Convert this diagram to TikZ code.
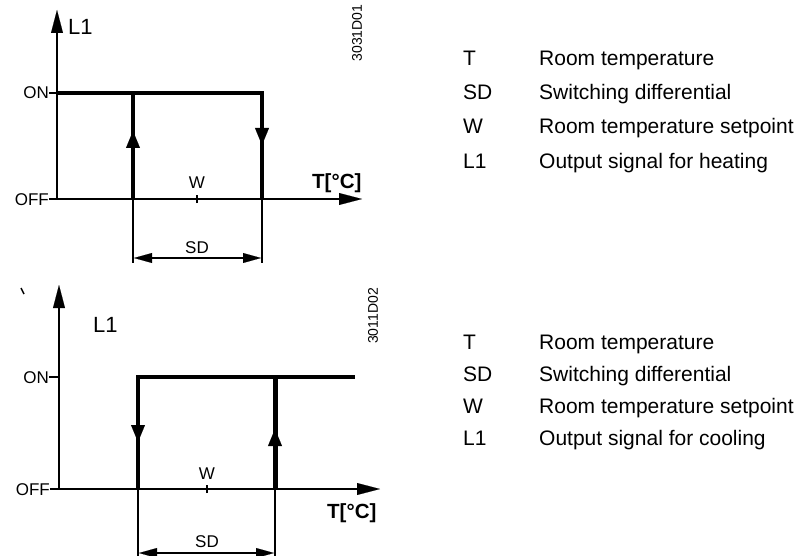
\documentclass[tikz,border=0pt]{standalone}
\usepackage{fontspec}
\setmainfont{Liberation Sans}
\usetikzlibrary{arrows.meta,positioning}

\begin{document}
\begin{tikzpicture}[
  x=1pt, y=-1pt,
  axis/.style={line width=1.2pt},
  axisarrow/.style={line width=1.2pt,
                    -{Triangle[length=23pt,width=12pt,line width=0.1pt]}},
  relay/.style={line width=4pt},
  relaytip/.style={line width=4pt,
                   -{Triangle[length=17pt,width=14pt,line width=0.1pt]}},
  dimline/.style={line width=1.3pt},
  dimarrow/.style={line width=2pt,
                   {Triangle[length=18pt,width=10pt,line width=0.1pt]}-{Triangle[length=18pt,width=10pt,line width=0.1pt]}},
  lbl/.style={inner sep=0pt, font=\fontsize{17}{20}\selectfont},
  big/.style={inner sep=0pt, anchor=base west, font=\fontsize{22}{26}\selectfont},
  unit/.style={inner sep=0pt, anchor=base west, font=\fontsize{20.5}{24}\selectfont\bfseries},
  code/.style={inner sep=0pt, rotate=90, font=\fontsize{14}{16}\selectfont},
  key/.style={inner sep=0pt, anchor=base west, font=\fontsize{21}{25}\selectfont}
]
  \useasboundingbox (0,0) rectangle (802,556);

  % heating
  \coordinate (O1) at (57,199);
  \coordinate (Ytop1) at (57,10);
  \coordinate (Xend1) at (362,199);
  \coordinate (On1) at (57,93);
  \coordinate (Up1) at (133,91);
  \coordinate (Upm1) at (133,131);
  \coordinate (Upb1) at (133,199);
  \coordinate (Dn1) at (262,93);
  \coordinate (Dnm1) at (262,145);
  \coordinate (Dnb1) at (262,199);
  \coordinate (W1) at (197,199);
  \coordinate (Sl1) at (133,263);
  \coordinate (Sr1) at (262,263);
  \coordinate (Sa1) at (134,258);
  \coordinate (Sb1) at (261,258);

  \node[lbl, anchor=base east] (on1) at (49,99) {ON};
  \node[lbl, anchor=base east] (off1) at (49,205) {OFF};
  \node[big] (l1a) at (68,35) {L1};
  \node[lbl, anchor=base] (w1) at (197,189) {W};
  \node[unit] (t1) at (312,188) {T[°C]};
  \node[lbl, anchor=base] (sd1) at (197,253) {SD};
  \node[code] (c1) at (357,33) {3031D01};

  \draw[axisarrow] (O1) -- (Ytop1);
  \draw[axisarrow] (O1) -- (Xend1);
  \draw[axis] (on1.east |- On1) -- (On1);
  \draw[axis] (off1.east |- O1) -- (O1);
  \draw[axis] ([yshift=-4pt]W1) -- ([yshift=4pt]W1);
  \draw[relay] (On1) -- (Dn1) -- (Dnb1);
  \draw[relay] (Upb1) -- (Up1);
  \draw[relaytip] (Upb1) -- (Upm1);
  \draw[relaytip] (Dn1) -- (Dnm1);
  \draw[dimline] (Upb1) -- (Sl1);
  \draw[dimline] (Dnb1) -- (Sr1);
  \draw[dimarrow] (Sa1) -- (Sb1);

  \foreach \k/\txt [count=\i] in {T/Room temperature, SD/Switching differential,
      W/Room temperature setpoint, L1/Output signal for heating}{
    \node[key] (key1-\i) at (463,32+34*\i) {\k};
    \node[key] (txt1-\i) at (539,32+34*\i) {\txt};
  }

  % cooling
  \coordinate (O2) at (59,489);
  \coordinate (Ytop2) at (59,285);
  \coordinate (Xend2) at (380,489);
  \coordinate (On2) at (59,377);
  \coordinate (Dn2) at (138,377);
  \coordinate (Dnm2) at (138,442);
  \coordinate (Dnb2) at (138,489);
  \coordinate (End2) at (355,377);
  \coordinate (Up2) at (275,375);
  \coordinate (Upm2) at (275,429);
  \coordinate (Upb2) at (275,489);
  \coordinate (W2) at (207,489);
  \coordinate (Sl2) at (138,556);
  \coordinate (Sr2) at (275,556);
  \coordinate (Sa2) at (139,553);
  \coordinate (Sb2) at (274,553);
  \coordinate (M2a) at (21,288);
  \coordinate (M2b) at (24,294);

  \node[lbl, anchor=base east] (on2) at (49,383) {ON};
  \node[lbl, anchor=base east] (off2) at (50,495) {OFF};
  \node[big] (l1b) at (93,332) {L1};
  \node[lbl, anchor=base] (w2) at (207,479) {W};
  \node[unit] (t2) at (327,518) {T[°C]};
  \node[lbl, anchor=base] (sd2) at (207,547) {SD};
  \node[code] (c2) at (373,316) {3011D02};

  \draw[line width=1.5pt] (M2a) -- (M2b);
  \draw[axisarrow] (O2) -- (Ytop2);
  \draw[axisarrow] (O2) -- (Xend2);
  \draw[axis] (on2.east |- On2) -- (On2);
  \draw[axis] (off2.east |- O2) -- (O2);
  \draw[axis] ([yshift=-4pt]W2) -- ([yshift=4pt]W2);
  \draw[relay] (Dnb2) -- (Dn2) -- (End2);
  \draw[relay, line width=5pt] (Upb2) -- (Up2);
  \draw[relaytip] (Dn2) -- (Dnm2);
  \draw[relaytip] (Upb2) -- (Upm2);
  \draw[dimline] (Dnb2) -- (Sl2);
  \draw[dimline] (Upb2) -- (Sr2);
  \draw[dimarrow] (Sa2) -- (Sb2);

  \foreach \k/\txt [count=\i] in {T/Room temperature, SD/Switching differential,
      W/Room temperature setpoint, L1/Output signal for cooling}{
    \node[key] (key2-\i) at (463,317+32*\i) {\k};
    \node[key] (txt2-\i) at (539,317+32*\i) {\txt};
  }
\end{tikzpicture}
\end{document}
